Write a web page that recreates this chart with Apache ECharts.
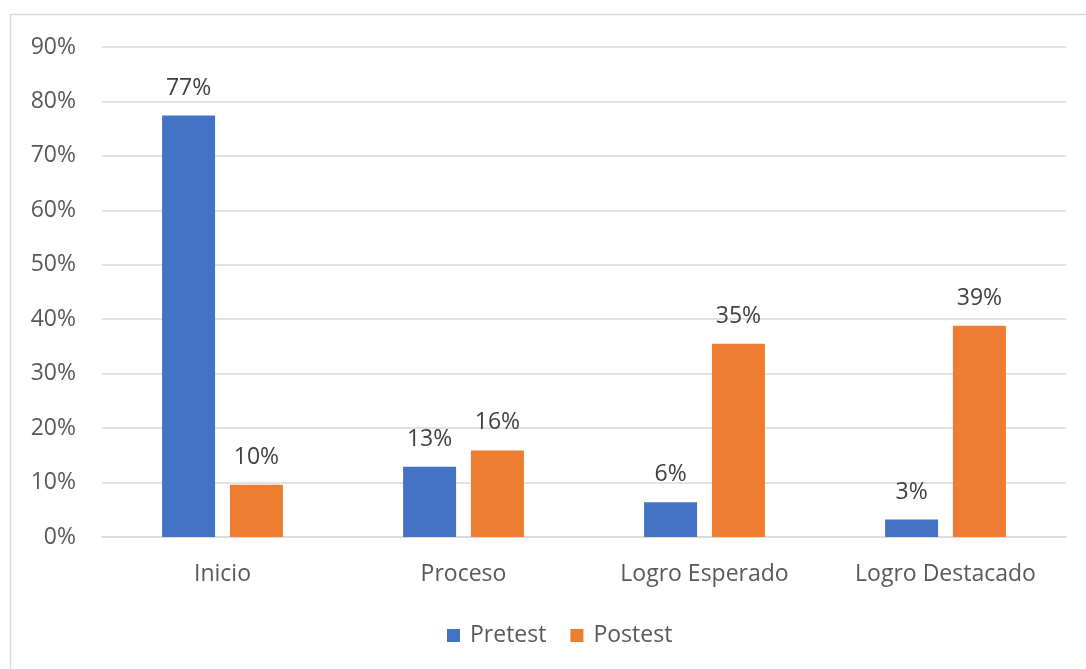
<!DOCTYPE html>
<html><head><meta charset="utf-8">
<script src="https://cdn.jsdelivr.net/npm/echarts@6/dist/echarts.min.js"></script>
<style>html,body{margin:0;padding:0;background:#fff}#c{width:1086px;height:669px}</style>
</head><body><div id="c"></div>
<script>
var categories = ['Inicio', 'Proceso', 'Logro Esperado', 'Logro Destacado'];
var pretest = [77.4, 12.9, 6.4, 3.2];
var postest = [9.6, 15.9, 35.5, 38.8];
var labelsPre = ['77%', '13%', '6%', '3%'];
var labelsPost = ['10%', '16%', '35%', '39%'];
var seriesNames = ['Pretest', 'Postest'];

var FONT = 'Open Sans';
var FS = 23;
var chart = echarts.init(document.getElementById('c'), null, {renderer: 'canvas'});
function mk(name, vals, labs, color) {
  return {
    name: name, type: 'bar', barWidth: 53, barGap: '28%',
    data: vals,
    itemStyle: {color: color},
    label: {show: true, position: 'top', distance: 16, color: '#404040', fontFamily: FONT, fontSize: FS,
      formatter: function (p) { return labs[p.dataIndex]; }},
    emphasis: {disabled: true}
  };
}
chart.setOption({
  animation: false,
  backgroundColor: '#fff',
  graphic: [{type: 'rect', shape: {x: 10.5, y: 14.5, width: 1100, height: 700},
    style: {fill: 'none', stroke: '#d9d9d9', lineWidth: 1.5}, silent: true}],
  grid: {left: 102, right: 20, top: 47, bottom: 132, containLabel: false},
  legend: {
    data: seriesNames, bottom: 17, left: 442, itemWidth: 13, itemHeight: 13, itemGap: 24,
    icon: 'rect',
    textStyle: {color: '#595959', fontFamily: FONT, fontSize: FS, padding: [0, 0, 0, 5]}
  },
  xAxis: {
    type: 'category', data: categories,
    axisLine: {lineStyle: {color: '#d9d9d9', width: 1.5}},
    axisTick: {show: false},
    axisLabel: {color: '#595959', fontFamily: FONT, fontSize: FS, margin: 26}
  },
  yAxis: {
    type: 'value', min: 0, max: 90, interval: 10,
    axisLine: {show: false}, axisTick: {show: false},
    splitLine: {lineStyle: {color: '#d9d9d9', width: 1.5}},
    axisLabel: {color: '#595959', fontFamily: FONT, fontSize: FS, margin: 26,
      formatter: function (v) { return v + '%'; }}
  },
  series: [mk(seriesNames[0], pretest, labelsPre, '#4472c4'), mk(seriesNames[1], postest, labelsPost, '#ed7d31')]
});
</script></body></html>
